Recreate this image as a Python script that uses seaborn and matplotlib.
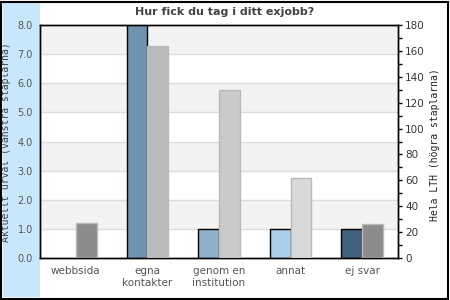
import numpy as np
import pandas as pd
import matplotlib
matplotlib.use("Agg")
import matplotlib.pyplot as plt
import seaborn as sns
from matplotlib.patches import Rectangle
from matplotlib.ticker import MultipleLocator

categories = ["webbsida", "egna\nkontakter", "genom en\ninstitution", "annat", "ej svar"]
left_values = [0, 8, 1, 1, 1]          # Aktuellt urval
right_values = [27, 164, 130, 62, 26]  # Hela LTH
left_colors = ["#8c8c8c", "#7093b1", "#8fb1ca", "#abcfeb", "#41617d"]
right_colors = ["#8c8c8c", "#bababa", "#cacaca", "#d9d9d9", "#8c8c8c"]
left_ticks = [0, 1, 2, 3, 4, 5, 6, 7, 8]
right_ticks = [0, 20, 40, 60, 80, 100, 120, 140, 160, 180]

title = "Hur fick du tag i ditt exjobb?"
left_label = "Aktuellt urval (vänstra staplarna)"
right_label = "Hela LTH (högra staplarna)"

sns.set_theme(style="white")
plt.rcParams['font.family'] = ['DejaVu Sans']

W, H = 450, 300
fig = plt.figure(figsize=(W / 100, H / 100), dpi=100)
fig.patch.set_facecolor("white")

# left light-blue panel and outer border
fig.add_artist(Rectangle((3 / W, 3 / H), 37 / W, 294 / H, transform=fig.transFigure,
                         facecolor="#c8e7fc", edgecolor="none", zorder=0))
fig.add_artist(Rectangle((1 / W, 1 / H), 447 / W, 297 / H, transform=fig.transFigure,
                         facecolor="none", edgecolor="black", lw=1.5, zorder=10))

ax = fig.add_axes([40 / W, (H - 258) / H, 358 / W, 233 / H])
ax.set_facecolor("white")
ax2 = ax.twinx()

n = len(categories)
df = pd.DataFrame({
    "cat": categories * 2,
    "val_left": left_values + [np.nan] * n,
    "val_right": [np.nan] * n + right_values,
    "serie": ["left"] * n + ["right"] * n,
})

sns.barplot(data=df, x="cat", y="val_left", hue="serie", hue_order=["left", "right"],
            order=categories, dodge=True, width=0.58, ax=ax, legend=False,
            errorbar=None, zorder=3)
sns.barplot(data=df, x="cat", y="val_right", hue="serie", hue_order=["left", "right"],
            order=categories, dodge=True, width=0.58, ax=ax2, legend=False,
            errorbar=None, zorder=3)

for p in ax.patches:
    i = int(round(p.get_x() + p.get_width() / 2 + 0.145))
    p.set_facecolor(left_colors[i])
    if p.get_height() > 0:
        p.set_edgecolor("black")
        p.set_linewidth(1)
    else:
        p.set_visible(False)
for p in ax2.patches:
    i = int(round(p.get_x() + p.get_width() / 2 - 0.145))
    p.set_facecolor(right_colors[i])
    p.set_edgecolor("#b9b9b9")
    p.set_linewidth(1)

ax.set_ylim(0, 8)
ax2.set_ylim(0, 180)
ax.set_xlim(-0.5, n - 0.5)

# bands and grid
for k in range(1, 8, 2):
    ax.axhspan(k, k + 1, color="#f3f3f3", zorder=0, lw=0)
for k in range(1, 8):
    ax.axhline(k, color="#dcdcdc", lw=1, zorder=1)

ax.set_yticks(left_ticks)
ax.set_yticklabels([f"{v:.1f}" for v in left_ticks])
ax.tick_params(axis="y", length=0, pad=5, labelsize=7, labelcolor="#555555")
ax.tick_params(axis="x", length=0, pad=6, labelsize=7.5, labelcolor="#555555")
ax.set_xlabel("")
ax.set_ylabel("")

ax2.set_yticks(right_ticks)
ax2.yaxis.set_minor_locator(MultipleLocator(10))
ax2.tick_params(axis="y", which="both", direction="out", length=3, width=1,
                color="black", pad=2, labelsize=7.5, labelcolor="#333333", right=True)
ax2.set_ylabel("")

for a in (ax, ax2):
    for s in a.spines.values():
        s.set_visible(True)
        s.set_color("black")
        s.set_linewidth(1)

fig.text(225 / W, 1 - 12 / H, title, ha="center", va="center", fontsize=8,
         fontweight="bold", color="#444444")
fig.text(6 / W, 1 - 142 / H, left_label, rotation=90, ha="center", va="center",
         fontsize=7, family="DejaVu Sans Mono", color="#444444")
fig.text(435 / W, 1 - 145 / H, right_label, rotation=90, ha="center", va="center",
         fontsize=7, family="DejaVu Sans Mono", color="#222222")

fig.savefig("out.png", dpi=100)
